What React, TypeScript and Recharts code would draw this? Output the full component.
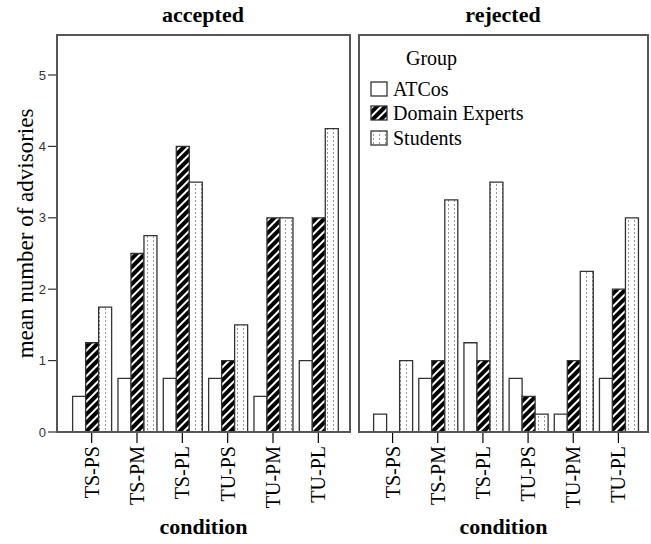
import React from "react";
import { Bar, BarChart, XAxis, YAxis } from "recharts";

const conditions = ["TS-PS", "TS-PM", "TS-PL", "TU-PS", "TU-PM", "TU-PL"];

const acceptedAtcos = [0.5, 0.75, 0.75, 0.75, 0.5, 1];
const acceptedExperts = [1.25, 2.5, 4, 1, 3, 3];
const acceptedStudents = [1.75, 2.75, 3.5, 1.5, 3, 4.25];

const rejectedAtcos = [0.25, 0.75, 1.25, 0.75, 0.25, 0.75];
const rejectedExperts = [0, 1, 1, 0.5, 1, 2];
const rejectedStudents = [1, 3.25, 3.5, 0.25, 2.25, 3];

const yTicks = [0, 1, 2, 3, 4, 5];
const groups = ["ATCos", "Domain Experts", "Students"];

const serif = "'Liberation Serif', 'Times New Roman', serif";

function buildRows(a: number[], e: number[], s: number[]) {
  return conditions.map((c, i) => ({ condition: c, atcos: a[i], experts: e[i], students: s[i] }));
}

const acceptedRows = buildRows(acceptedAtcos, acceptedExperts, acceptedStudents);
const rejectedRows = buildRows(rejectedAtcos, rejectedExperts, rejectedStudents);

const fills = ["#ffffff", "url(#hatch)", "url(#dots)"];

function ConditionTick(props: any) {
  const { x, y, payload } = props;
  return (
    <text
      x={x}
      y={y + 1}
      transform={`rotate(-90, ${x}, ${y + 1})`}
      textAnchor="end"
      dy="0.35em"
      fontFamily={serif}
      fontSize={20}
      fill="#000"
    >
      {payload.value}
    </text>
  );
}

function GroupLegend() {
  return (
    <div style={{ fontFamily: serif, fontSize: 20, color: "#000", lineHeight: "24.5px" }}>
      <div style={{ paddingLeft: 36, marginBottom: 6 }}>Group</div>
      {groups.map((g, i) => (
        <div key={g} style={{ display: "flex", alignItems: "center" }}>
          <svg width={18} height={16} style={{ marginRight: 5 }}>
            <rect x={1} y={1} width={16} height={14} fill={fills[i]} stroke="#333" strokeWidth={1.3} />
          </svg>
          <span>{g}</span>
        </div>
      ))}
    </div>
  );
}

function Panel({ rows, withAxis }: { rows: any[]; withAxis: boolean }) {
  return (
    <BarChart
      width={withAxis ? 355 : 296}
      height={544}
      data={rows}
      margin={withAxis ? { top: 35, right: 5, bottom: 0, left: 0 } : { top: 35, right: 3, bottom: 0, left: 4 }}
      barCategoryGap="8%"
      barGap={0}
    >
      <XAxis
        dataKey="condition"
        height={112}
        axisLine={false}
        tickLine={{ stroke: "#000", strokeWidth: 1.2 }}
        tickSize={11}
        tick={<ConditionTick />}
        interval={0}
        padding={withAxis ? { left: 12, right: 9 } : { left: 11, right: 7 }}
        label={{
          value: "condition",
          position: "insideBottom",
          offset: 10,
          style: { fontFamily: serif, fontSize: 22, fontWeight: "bold", fill: "#000" },
        }}
      />
      <YAxis
        hide={!withAxis}
        width={57}
        domain={[0, 5.56]}
        ticks={yTicks}
        axisLine={false}
        tickLine={{ stroke: "#333", strokeWidth: 1.2 }}
        tickSize={9}
        tick={{ fontFamily: "'Liberation Sans', Arial, sans-serif", fontSize: 13, fill: "#333" }}
        label={{
          value: "mean number of advisories",
          angle: -90,
          position: "center",
          dx: -4,
          style: { fontFamily: serif, fontSize: 23, fill: "#000" },
        }}
      />
      <Bar dataKey="atcos" name="ATCos" fill={fills[0]} stroke="#333" strokeWidth={1.3} isAnimationActive={false} />
      <Bar dataKey="experts" name="Domain Experts" fill={fills[1]} stroke="#333" strokeWidth={1.3} isAnimationActive={false} />
      <Bar dataKey="students" name="Students" fill={fills[2]} stroke="#333" strokeWidth={1.3} isAnimationActive={false} />
    </BarChart>
  );
}

const frameStyle: React.CSSProperties = {
  position: "absolute",
  border: "2px solid #555",
  boxSizing: "border-box",
  pointerEvents: "none",
};

const titleStyle: React.CSSProperties = {
  position: "absolute",
  top: 2,
  width: 200,
  textAlign: "center",
  fontFamily: serif,
  fontSize: 22,
  fontWeight: "bold",
  color: "#000",
};

export default function App() {
  return (
    <div style={{ position: "absolute", left: 0, top: 0, width: 651, height: 544, background: "#fff", overflow: "hidden" }}>
      <svg width={0} height={0} style={{ position: "absolute" }}>
        <defs>
          <pattern id="hatch" patternUnits="userSpaceOnUse" width={6} height={6} patternTransform="rotate(45)">
            <rect width={6} height={6} fill="#000" />
            <rect x={2} width={2} height={6} fill="#fff" />
          </pattern>
          <pattern id="dots" patternUnits="userSpaceOnUse" width={6} height={4}>
            <rect width={6} height={4} fill="#fff" />
            <rect x={3} y={0} width={1} height={2} fill="#999" />
          </pattern>
        </defs>
      </svg>
      <div style={{ position: "absolute", left: 0, top: 0 }}>
        <Panel rows={acceptedRows} withAxis />
      </div>
      <div style={{ position: "absolute", left: 355, top: 0 }}>
        <Panel rows={rejectedRows} withAxis={false} />
      </div>
      <div style={{ ...frameStyle, left: 56, top: 34, width: 295, height: 399 }} />
      <div style={{ ...frameStyle, left: 358, top: 34, width: 291, height: 399 }} />
      <div style={{ ...titleStyle, left: 103 }}>accepted</div>
      <div style={{ ...titleStyle, left: 403 }}>rejected</div>
      <div style={{ position: "absolute", left: 370, top: 46 }}>
        <GroupLegend />
      </div>
    </div>
  );
}
